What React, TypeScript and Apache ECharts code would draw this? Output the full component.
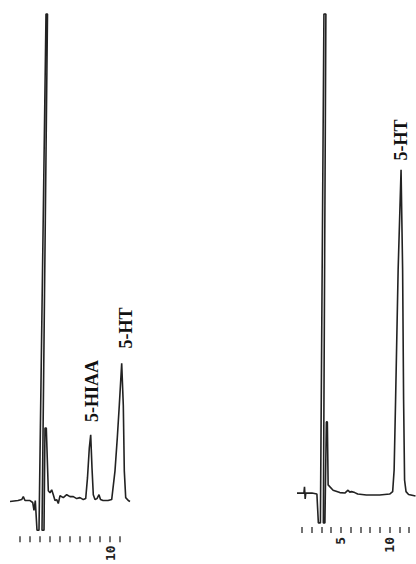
import React, { useEffect, useRef } from "react";
import * as echarts from "echarts";

// Left chromatogram (time in min, detector signal in arbitrary units)
const leftTime = [0.0, 0.8, 1.17, 1.33, 1.5, 2.0, 2.27, 2.4, 2.53, 2.7, 2.9, 3.6, 3.75, 3.2, 3.4, 3.5, 3.63, 3.83, 4.0, 4.17, 4.33, 4.5, 4.67, 4.83, 5.0, 5.33, 5.67, 6.0, 6.33, 6.67, 7.0, 7.33, 7.57, 7.75, 7.93, 8.07, 8.2, 8.33, 8.5, 8.7, 8.9, 9.05, 9.3, 9.8, 10.17, 10.5, 10.73, 10.93, 11.17, 11.33, 11.43, 11.57, 11.83, 12.0];
const leftSignal = [-0.2, 0, 0.2, 0.8, 0, 0, -0.4, -2.0, 0, -6.1, -6.1, 100, 100, -6.1, -6.1, 14.9, 14.9, 2.0, 1.6, 2.2, 1.2, 0, 0.2, -0.6, 1.0, 0.6, 1.2, 0.8, 0.8, 0.4, 0.6, 0.2, 0.4, 4.7, 10.8, 13.5, 6.7, 1.2, 0.2, 0.4, 1.2, 0.2, 0, 0, 0.2, 6.1, 12.9, 19.6, 28.2, 19.6, 6.1, 0.6, 0, -0.2];

// Right chromatogram
const rightTime = [0.51, 1.22, 1.28, 1.35, 1.41, 2.04, 2.55, 2.7, 2.91, 3.27, 3.47, 3.21, 3.37, 3.52, 3.62, 3.7, 4.21, 4.9, 5.41, 5.74, 5.92, 6.09, 6.43, 6.73, 7.62, 8.98, 10.0, 10.31, 10.46, 10.61, 10.87, 11.17, 11.33, 11.43, 11.53, 11.68, 11.94, 12.65];
const rightSignal = [0.4, 0.4, 1.7, -0.8, 0.4, 0.4, 0.2, -5.8, -5.8, 100, 100, -5.8, -5.8, 15.2, 15.2, 2.1, 1.0, 0.5, 0.4, 1.0, 0.6, 0.7, 0.5, 0.2, 0, 0, 0.2, 0.7, 5.2, 19.8, 46.8, 67.6, 46.8, 19.8, 3.1, 0.7, 0.1, -0.2];

// Axis ticks and labels (minutes)
const leftTicks = [1, 2, 3, 4, 5, 6, 7, 8, 9, 10, 11];
const leftTickLabels = [10];
const rightTicks = [1, 2, 3, 4, 5, 6, 7, 8, 9, 10, 11, 12];
const rightTickLabels = [5, 10];

// Peak annotations
const leftPeakNames = ["5-HIAA", "5-HT"];
const rightPeakNames = ["5-HT"];

export default function App() {
  const ref = useRef<HTMLDivElement>(null);
  useEffect(() => {
    if (!ref.current) return;
    const chart = echarts.init(ref.current, undefined, { renderer: "svg" });
    const trace = "#222";
    const tickColor = "#444";
    const labelFont = {
      color: "#222",
      fontFamily: "DejaVu Sans Mono",
      fontSize: 13,
      fontWeight: "bold" as const,
      rotate: 90,
    };
    const peakFont = 'bold 18px "Liberation Serif"';
    const mkXAxis = (gridIndex: number, max: number, ticks: number[], labels: number[], margin: number) => ({
      type: "value",
      gridIndex,
      min: 0,
      max,
      axisLine: { show: false, onZero: false },
      splitLine: { show: false },
      axisTick: {
        show: true,
        inside: true,
        length: 6,
        customValues: ticks,
        lineStyle: { color: tickColor, width: 1.5 },
      },
      axisLabel: {
        show: true,
        margin,
        customValues: labels,
        formatter: (v: number) => String(v),
        ...labelFont,
      },
    });
    const mkYAxis = (gridIndex: number, min: number) => ({
      type: "value",
      gridIndex,
      min,
      max: 100,
      show: false,
    });
    chart.setOption({
      animation: false,
      backgroundColor: "#fff",
      grid: [
        { left: 10, top: 14, width: 120, height: 531 },
        { left: 292, top: 14, width: 124.46, height: 519 },
      ],
      xAxis: [
        mkXAxis(0, 12, leftTicks, leftTickLabels, 3),
        mkXAxis(1, 12.7, rightTicks, rightTickLabels, 4),
      ],
      yAxis: [mkYAxis(0, -8.59), mkYAxis(1, -7.9)],
      series: [
        {
          type: "line",
          xAxisIndex: 0,
          yAxisIndex: 0,
          data: leftTime.map((t, i) => [t, leftSignal[i]]),
          showSymbol: false,
          clip: false,
          lineStyle: { color: trace, width: 1.6 },
        },
        {
          type: "line",
          xAxisIndex: 1,
          yAxisIndex: 1,
          data: rightTime.map((t, i) => [t, rightSignal[i]]),
          showSymbol: false,
          clip: false,
          lineStyle: { color: trace, width: 1.6 },
        },
      ],
      graphic: [
        {
          type: "text",
          x: 92,
          y: 391,
          rotation: Math.PI / 2,
          style: { text: leftPeakNames[0], font: peakFont, fill: "#111", align: "center", verticalAlign: "middle" },
        },
        {
          type: "text",
          x: 126,
          y: 328,
          rotation: Math.PI / 2,
          style: { text: leftPeakNames[1], font: peakFont, fill: "#111", align: "center", verticalAlign: "middle" },
        },
        {
          type: "text",
          x: 401,
          y: 140,
          rotation: Math.PI / 2,
          style: { text: rightPeakNames[0], font: peakFont, fill: "#111", align: "center", verticalAlign: "middle" },
        },
      ],
    });
    return () => chart.dispose();
  }, []);
  return (
    <div
      ref={ref}
      style={{ position: "fixed", left: 0, top: 0, width: 416, height: 564, background: "#fff" }}
    />
  );
}
